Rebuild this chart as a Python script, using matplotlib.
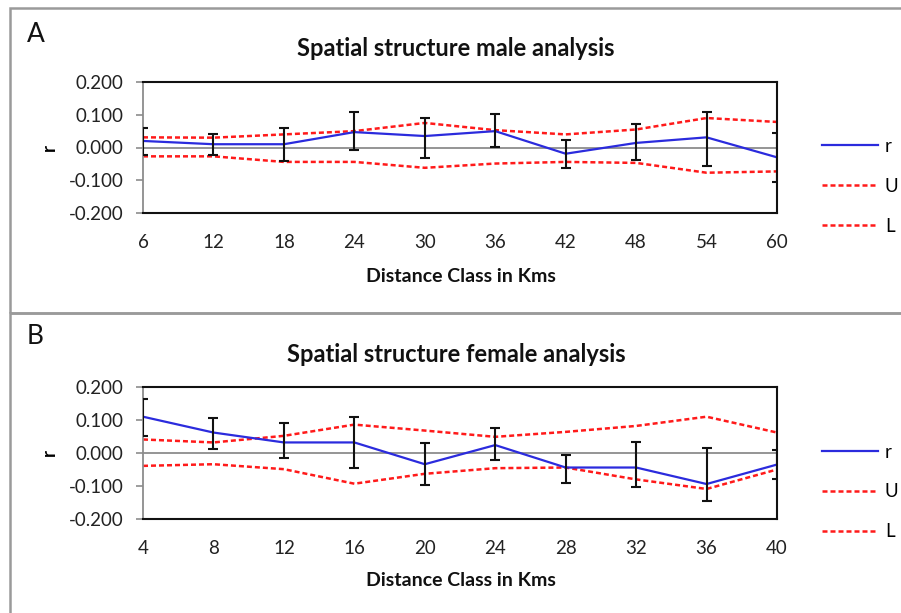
import matplotlib.pyplot as plt
from matplotlib.patches import Rectangle

# male panel (A)
male_dist = [6, 12, 18, 24, 30, 36, 42, 48, 54, 60]
male_r = [0.020, 0.010, 0.010, 0.047, 0.035, 0.050, -0.019, 0.014, 0.031, -0.030]
male_err_top = [0.060, 0.040, 0.060, 0.108, 0.089, 0.103, 0.024, 0.073, 0.109, 0.045]
male_err_bot = [-0.024, -0.024, -0.040, -0.009, -0.033, 0.002, -0.062, -0.039, -0.057, -0.106]
male_U = [0.031, 0.030, 0.040, 0.050, 0.075, 0.053, 0.040, 0.055, 0.090, 0.078]
male_L = [-0.027, -0.027, -0.044, -0.044, -0.062, -0.049, -0.044, -0.047, -0.077, -0.073]

# female panel (B)
female_dist = [4, 8, 12, 16, 20, 24, 28, 32, 36, 40]
female_r = [0.110, 0.062, 0.032, 0.032, -0.034, 0.024, -0.044, -0.044, -0.094, -0.035]
female_err_top = [0.164, 0.106, 0.092, 0.110, 0.029, 0.077, -0.005, 0.032, 0.014, 0.009]
female_err_bot = [0.052, 0.013, -0.016, -0.045, -0.097, -0.021, -0.092, -0.102, -0.145, -0.078]
female_U = [0.041, 0.032, 0.052, 0.086, 0.068, 0.049, 0.064, 0.082, 0.110, 0.062]
female_L = [-0.039, -0.034, -0.049, -0.093, -0.063, -0.046, -0.044, -0.080, -0.109, -0.050]

yticks = [-0.2, -0.1, 0.0, 0.1, 0.2]

plt.rcParams['font.family'] = ['Lato', 'DejaVu Sans']

fig = plt.figure(figsize=(9.01, 6.13), dpi=100)

# panel frames
fig.add_artist(Rectangle((10/901, 1-313/613), 1.0, 305/613, transform=fig.transFigure,
                         fill=False, edgecolor='#9a9a9a', lw=1.8))
fig.add_artist(Rectangle((10/901, -0.05), 1.0, 1-313/613+0.05, transform=fig.transFigure,
                         fill=False, edgecolor='#9a9a9a', lw=1.8))


def panel(rect, dist, r, top, bot, U, L, title, letter, letter_y, title_y, xlab_y):
    ax = fig.add_axes(rect)
    lower = [ri - b for ri, b in zip(r, bot)]
    upper = [t - ri for ri, t in zip(r, top)]
    ax.axhline(0, color='#8c8c8c', lw=1.3, zorder=1)
    ax.plot(dist, r, color='#2b2bdd', lw=1.6, label='r', zorder=3)
    ax.errorbar(dist, r, yerr=[lower, upper], fmt='none', ecolor='#111111',
                elinewidth=1.5, capsize=3.5, capthick=1.5, zorder=4)
    ax.plot(dist, U, color='#ff1a1a', lw=1.8, ls=(0, (2, 1.2)), label='U', zorder=2)
    ax.plot(dist, L, color='#ff1a1a', lw=1.8, ls=(0, (2, 1.2)), label='L', zorder=2)
    ax.set_xlim(dist[0], dist[-1])
    ax.set_ylim(-0.2, 0.2)
    ax.set_xticks(dist)
    ax.set_xticklabels([str(d) for d in dist])
    ax.set_yticks(yticks)
    ax.set_yticklabels(['%.3f' % v for v in yticks])
    ax.tick_params(axis='x', length=0, pad=15, labelsize=13.5, labelcolor='#222222')
    ax.tick_params(axis='y', length=5, width=1.2, color='#8c8c8c', pad=9,
                   labelsize=13.5, labelcolor='#222222')
    for s in ['top', 'right', 'bottom']:
        ax.spines[s].set_color('#111111')
        ax.spines[s].set_linewidth(1.5)
    ax.spines['left'].set_color('#8c8c8c')
    ax.spines['left'].set_linewidth(1.3)
    ax.set_ylabel('r', fontsize=13.5, fontweight='bold', labelpad=8)
    fig.text(461/901, 1-xlab_y/613, 'Distance Class in Kms', ha='center', va='center',
             fontsize=14, fontweight='bold', color='#111111')
    fig.text(456/901, 1-title_y/613, title, ha='center', va='center',
             fontsize=17, fontweight='bold', color='#111111')
    fig.text(27/901, 1-letter_y/613, letter, ha='left', va='center', fontsize=19,
             color='#111111')
    ax.legend(loc='center left', bbox_to_anchor=((822-143)/634, 0.205), frameon=False,
              fontsize=13.5, handlelength=3.0, labelspacing=1.22, handletextpad=0.35,
              borderpad=0, borderaxespad=0)
    return ax


panel([143/901, 1-213/613, 634/901, 131/613], male_dist, male_r, male_err_top,
      male_err_bot, male_U, male_L, 'Spatial structure male analysis', 'A', 35, 48, 276)
panel([143/901, 1-519/613, 634/901, 132/613], female_dist, female_r, female_err_top,
      female_err_bot, female_U, female_L, 'Spatial structure female analysis', 'B', 337, 355, 580)

plt.savefig('out.png', dpi=100)
